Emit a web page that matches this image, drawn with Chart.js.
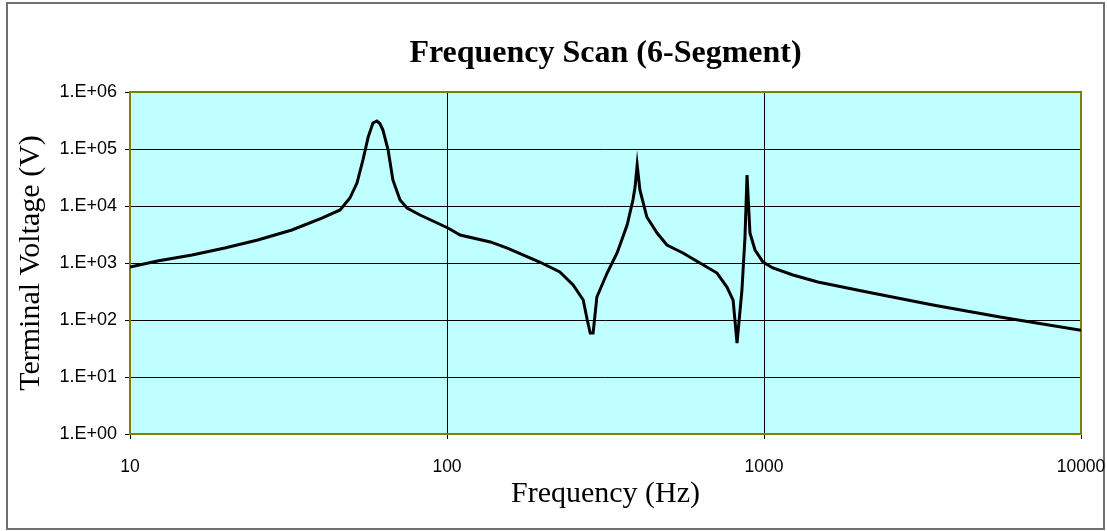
<!DOCTYPE html>
<html>
<head>
<meta charset="utf-8">
<title>Frequency Scan (6-Segment)</title>
<script src="https://cdn.jsdelivr.net/npm/chart.js@4/dist/chart.umd.min.js"></script>
<style>
  html, body { margin: 0; padding: 0; background: #fff; }
  canvas { display: block; }
</style>
</head>
<body>
<canvas id="scan" width="1107" height="531"></canvas>
<script>
// Frequency scan: terminal voltage against frequency
const freqHz = [10, 12.2, 15.7, 19.9, 25.3, 32.4, 40.3, 46, 49.4, 52,
  54.3, 56.4, 58.4, 60.1, 61.4, 62.8, 65.2, 67.5, 71.1, 74.8, 82.2,
  100.7, 110, 137, 155, 196, 227, 250, 269, 277, 283,
  289, 297, 320, 344, 370, 386, 392, 398, 406, 427,
  460, 494, 555, 628, 711, 764, 799, 822, 852, 871,
  884, 903, 937, 993, 1067, 1234, 1479, 2113, 3412, 5550, 10000];
const voltageV = [850, 1080, 1380, 1830, 2530, 3790, 6150, 8510, 13800, 25300,
  64100, 162000, 286000, 310000, 280000, 215000, 96000, 28600, 12700, 9230, 6950,
  4110, 3100, 2340, 1830, 1040, 695, 411, 224, 100, 59,
  59, 253, 667, 1500, 4640, 12700, 21500, 52400, 19100, 6410,
  3360, 2070, 1500, 1000, 667, 379, 224, 39.5, 336, 2860,
  35000, 3360, 1690, 1040, 817, 616, 464, 310, 183, 113, 66];

// axis ticks (decades only)
const xTickValues = [10, 100, 1000, 10000];
const xTickLabels = ['10', '100', '1000', '10000'];
const yTickValues = [1, 10, 100, 1000, 10000, 100000, 1000000];
const yTickLabels = ['1.E+00', '1.E+01', '1.E+02', '1.E+03', '1.E+04', '1.E+05', '1.E+06'];

const plotBg = '#c0ffff';
const plotBorder = '#808000';
const serif = "'Times New Roman', 'Liberation Serif', serif";
const sans = "Arial, 'Liberation Sans', sans-serif";

// white page, grey outer frame, cyan plot area and olive border
const framePlugin = {
  id: 'frame',
  beforeDraw(chart) {
    const { ctx, chartArea: a } = chart;
    ctx.save();
    ctx.fillStyle = '#fff';
    ctx.fillRect(0, 0, chart.width, chart.height);
    ctx.strokeStyle = '#707070';
    ctx.lineWidth = 2;
    ctx.strokeRect(7, 3, chart.width - 10, chart.height - 5);
    ctx.fillStyle = plotBg;
    ctx.fillRect(a.left, a.top, a.right - a.left, a.bottom - a.top);
    ctx.restore();
  },
  beforeDatasetsDraw(chart) {
    const { ctx, chartArea: a } = chart;
    ctx.save();
    ctx.strokeStyle = plotBorder;
    ctx.lineWidth = 2;
    ctx.strokeRect(a.left, a.top, a.right - a.left, a.bottom - a.top);
    ctx.restore();
  }
};

const points = freqHz.map((f, i) => ({ x: f, y: voltageV[i] }));

new Chart(document.getElementById('scan'), {
  type: 'line',
  data: {
    datasets: [{
      label: 'Terminal Voltage',
      data: points,
      borderColor: '#000',
      borderWidth: 3,
      pointRadius: 0,
      tension: 0,
      fill: false
    }]
  },
  options: {
    responsive: false,
    animation: false,
    devicePixelRatio: 1,
    layout: { padding: { left: 0, right: 26, top: 0, bottom: 0 } },
    plugins: {
      legend: { display: false },
      tooltip: { enabled: false },
      title: {
        display: true,
        text: 'Frequency Scan (6-Segment)',
        fullSize: false,
        color: '#000',
        font: { family: serif, size: 32, weight: 'bold', lineHeight: 1.2 },
        padding: { top: 35, bottom: 18.6 }
      }
    },
    scales: {
      x: {
        type: 'logarithmic',
        min: 10,
        max: 10000,
        afterBuildTicks: s => { s.ticks = xTickValues.map(value => ({ value })); },
        afterFit: s => {
          s.height = 97;
          // labels at the ends may overhang; keep the plot edges fixed
          s.paddingLeft = 0;
          s.paddingRight = 0;
        },
        ticks: {
          callback: (v, i) => xTickLabels[i],
          color: '#000',
          font: { family: sans, size: 17.5 },
          padding: 18,
          maxRotation: 0,
          autoSkip: false
        },
        grid: { color: '#000', lineWidth: 1, tickLength: 5 },
        border: { display: false },
        title: {
          display: true,
          text: 'Frequency (Hz)',
          color: '#000',
          font: { family: serif, size: 30, lineHeight: 1.2 },
          padding: { top: 0, bottom: 19 }
        }
      },
      y: {
        type: 'logarithmic',
        min: 1,
        max: 1000000,
        afterBuildTicks: s => { s.ticks = yTickValues.map(value => ({ value })); },
        afterFit: s => {
          s.width = 130;
          s.paddingTop = 0;
          s.paddingBottom = 0;
        },
        ticks: {
          callback: (v, i) => yTickLabels[i],
          color: '#000',
          font: { family: sans, size: 18 },
          padding: 8,
          autoSkip: false
        },
        grid: { color: '#000', lineWidth: 1, tickLength: 5 },
        border: { display: false },
        title: {
          display: true,
          text: 'Terminal Voltage (V)',
          color: '#000',
          font: { family: serif, size: 30, lineHeight: 1.2 },
          padding: { top: 13, bottom: 0 }
        }
      }
    }
  },
  plugins: [framePlugin]
});
</script>
</body>
</html>
